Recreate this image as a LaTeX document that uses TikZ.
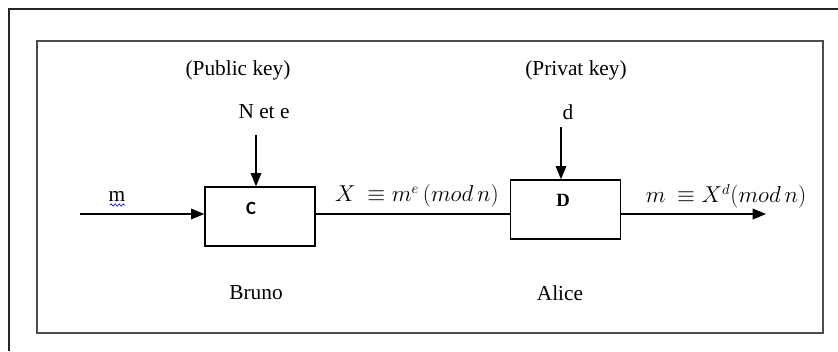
\documentclass[tikz,border=0pt]{standalone}
\usepackage{fontspec}
\setmainfont{Liberation Serif}
\newfontfamily\calfont{Carlito}
\usetikzlibrary{arrows.meta,decorations.pathmorphing}
\begin{document}
\begin{tikzpicture}[x=0.75pt,y=-0.75pt,
  every node/.style={font=\fontsize{16}{18}\selectfont, inner sep=0pt},
  blk/.style={draw, line width=1pt, minimum width=110*0.75pt, minimum height=59*0.75pt},
  arr/.style={line width=1pt, -{Triangle[length=10pt,width=8pt]}},
  conn/.style={line width=1pt},
  lbl/.style={font=\fontsize{16}{18}\selectfont},
  wavy/.style={blue, line width=0.5pt, decorate, decoration={snake, amplitude=0.8pt, segment length=3pt}}]
\useasboundingbox (0,0) rectangle (838,351);
% outer frame
\draw[line width=1.6pt, black!85] (9,351) -- (9,9) -- (838,9);
% inner frame
\draw[line width=1.3pt, black!70] (37,41) rectangle (823,333);
% boxes
\node[blk] (C) at (260,216.5) {};
\node[blk] (D) at (565.5,209.5) {};
\node[font=\calfont\bfseries\fontsize{14}{16}\selectfont] (Clbl) at (251,208) {C};
\node[font=\bfseries\fontsize{14}{16}\selectfont] (Dlbl) at (563,200) {D};
% coordinates
\coordinate (in) at (80,214);
\coordinate (out) at (766,214);
\coordinate (keyC) at (256,135);
\coordinate (keyD) at (561,127);
% connectors
\draw[arr] (in) -- (in -| C.west);
\draw[conn] (C.east |- in) -- (D.west |- in);
\draw[arr] (D.east |- in) -- (out);
\draw[arr] (keyC) -- (keyC |- C.north);
\draw[arr] (keyD) -- (keyD |- D.north);
% texts
\node[lbl] (pub) at (238,70) {(Public key)};
\node[lbl] (ne) at (264,112) {N et e};
\node[lbl] (priv) at (576,70) {(Privat key)};
\node[lbl] (d) at (568,112) {d};
\node[lbl] (bruno) at (256,293) {Bruno};
\node[lbl] (alice) at (560,293) {Alice};
\node[lbl] (m) at (117,196) {m};
\coordinate (wa) at (110,205);
\coordinate (wb) at (125,205);
\draw[wavy] (wa) -- (wb);
\node[lbl] (xl) at (417,196) {$X\ \equiv m^{e}\,(mod\,n)$};
\node[lbl] (ml) at (726,196) {$m\ \equiv X^{d}(mod\,n)$};
\end{tikzpicture}
\end{document}
